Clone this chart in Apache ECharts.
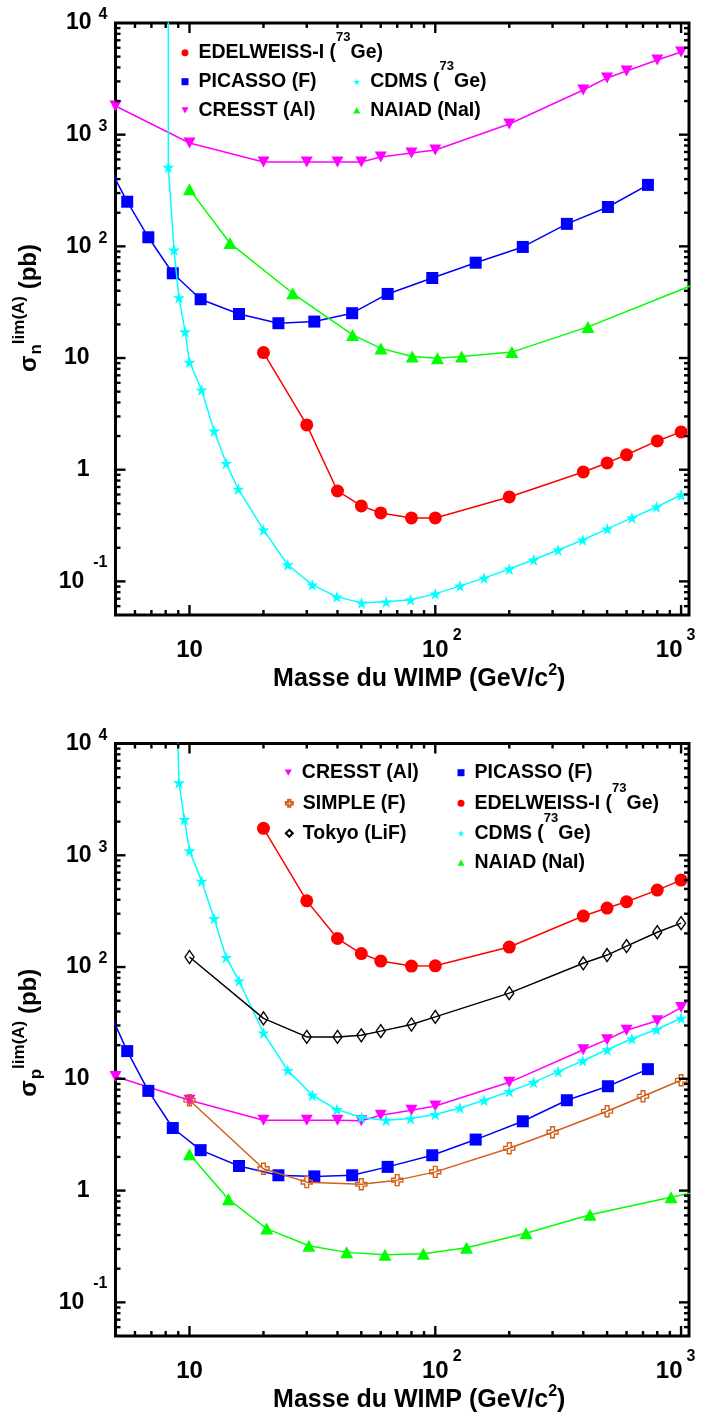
<!DOCTYPE html>
<html><head><meta charset="utf-8">
<script src="https://cdn.jsdelivr.net/npm/echarts@6/dist/echarts.min.js"></script>
<style>html,body{margin:0;padding:0;background:#fff}#c{width:709px;height:1416px}</style>
</head><body><div id="c"></div><script>
// ---------- DATA ----------
// Top panel (sigma_n)
const nCresstX = [5,10,20,30,40,50,60,80,100,200,400,500,600,800,1000];
const nCresstY = [1807,843,570,570,570,570,631,686,730,1247,2512,3221,3716,4663,5495];
const nPicassoX = [4.85,5.58,6.8,8.55,11.1,15.9,23,32.2,45.9,64,97.2,146,227,343,504,733];
const nPicassoY = [450,251,120.6,57.4,33.6,24.8,20.5,21.2,25.2,37.5,52.1,71.4,98.8,159,225,355];
const nCdmsX = [8.2,8.2,8.65,9.06,9.6,10,11.2,12.6,14.1,15.8,20,25.1,31.6,39.8,50.1,63.1,79.4,100,126,158,200,251,316,398,501,631,794,1000];
const nCdmsY = [100000,511,92.8,34.7,17.2,9.2,5.18,2.22,1.14,0.669,0.289,0.141,0.0931,0.0727,0.0642,0.0656,0.0684,0.0773,0.0912,0.107,0.129,0.156,0.191,0.235,0.295,0.37,0.464,0.594];
const nEdelX = [20,30,40,50,60,80,100,200,400,500,600,800,1000];
const nEdelY = [11.2,2.52,0.645,0.474,0.41,0.37,0.37,0.57,0.955,1.15,1.36,1.81,2.18];
const nNaiadX = [10,14.6,26.3,46.1,60.1,80.6,102,128,205,418,1200];
const nNaiadY = [324,107,38,16.1,12.2,10.3,9.96,10.3,11.3,19,48];
// Bottom panel (sigma_p)
const pCresstX = [5,10,20,30,40,50,60,80,100,200,400,500,600,800,1000];
const pCresstY = [10.5,6.43,4.26,4.26,4.26,4.22,4.72,5.23,5.72,9.3,18.2,22.4,27.2,33.1,43.4];
const pPicassoX = [4.85,5.58,6.8,8.55,11.1,15.9,23,32.2,45.9,64,97.2,146,227,343,504,733];
const pPicassoY = [35,17.7,7.8,3.63,2.30,1.66,1.37,1.34,1.37,1.63,2.07,2.86,4.17,6.43,8.58,12.2];
const pSimpleX = [10,20,30,50,70,100,200,300,500,700,1000];
const pSimpleY = [6.43,1.57,1.19,1.14,1.24,1.47,2.39,3.33,5.13,6.98,9.7];
const pTokyoX = [10,20,30,40,50,60,80,100,200,400,500,600,800,1000];
const pTokyoY = [123,34.7,23.7,23.7,24.5,26.7,30.6,35.8,58.4,108,128,154,205,247];
const pEdelX = [20,30,40,50,60,80,100,200,400,500,600,800,1000];
const pEdelY = [1741,391,180,132,113,102,102.5,151,286,337,384,488,600];
const pCdmsX = [8.9,9.06,9.53,10,11.2,12.6,14.1,15.9,20,25.1,31.6,39.8,50.1,63.1,79.4,100,126,158,200,251,316,398,501,631,794,1000];
const pCdmsY = [20000,4457,2094,1097,587,272,122,75.2,25.7,11.9,7.13,5.31,4.51,4.26,4.41,4.79,5.49,6.43,7.7,9.3,11.6,14.5,18.2,22.8,27.6,34.8];
const pNaiadX = [10,14.4,20.6,30.6,43.6,62.4,89.4,134,234,426,910,1200];
const pNaiadY = [2.11,0.836,0.457,0.321,0.28,0.266,0.272,0.308,0.415,0.607,0.87,0.99];

// Axis ticks
const xMajorTicks = [10,100,1000];
const xMinorTicks = [6,7,8,9,20,30,40,50,60,70,80,90,200,300,400,500,600,700,800,900];
const yMajorTicks = [0.1,1,10,100,1000];
const yMinorTicks = [0.06,0.07,0.08,0.09,0.2,0.3,0.4,0.5,0.6,0.7,0.8,0.9,2,3,4,5,6,7,8,9,20,30,40,50,60,70,80,90,200,300,400,500,600,700,800,900,2000,3000,4000,5000,6000,7000,8000,9000];

const NAMES = {
  edel:'EDELWEISS-I (73Ge)', pic:'PICASSO (F)', cres:'CRESST (Al)', cdms:'CDMS (73Ge)',
  naiad:'NAIAD (NaI)', simple:'SIMPLE (F)', tokyo:'Tokyo (LiF)'
};

// ---------- STYLE ----------
const FF = "'Liberation Sans', Arial, sans-serif";
const STAR = 'path://M50,0 L61.2,34.5 L97.6,34.5 L68.2,55.9 L79.4,90.5 L50,69.1 L20.6,90.5 L31.8,55.9 L2.4,34.5 L38.8,34.5 Z';
const DTRI = 'path://M0,0 L10,0 L5,9 Z';
const UTRI = 'path://M5,0 L10,9 L0,9 Z';
const PLUS = 'path://M3.3,0 H6.7 V3.3 H10 V6.7 H6.7 V10 H3.3 V6.7 H0 V3.3 H3.3 Z';
const STY = {
  edel:  {color:'#ff0000', symbol:'circle', size:13},
  pic:   {color:'#0000ff', symbol:'rect', size:12},
  cres:  {color:'#ff00ff', symbol:'triangle', size:[12,11], rotate:180},
  cdms:  {color:'#00ffff', symbol:STAR, size:12},
  naiad: {color:'#00ff00', symbol:'triangle', size:[13,12]},
  simple:{color:'#d2601a', symbol:PLUS, size:11, open:true},
  tokyo: {color:'#000000', symbol:'diamond', size:[9,13], open:true}
};

function mk(key, g, xs, ys, z) {
  const s = STY[key];
  return {
    type:'line', name:NAMES[key], xAxisIndex:g, yAxisIndex:g,
    data: xs.map((x,i)=>[x, ys[i]]),
    symbol:s.symbol, symbolSize:s.size, symbolRotate:s.rotate||0, symbolKeepAspect:false,
    showSymbol:true, showAllSymbol:true, clip:true, z:z||2,
    itemStyle: s.open ? {color:'rgba(255,255,255,0)', borderColor:s.color, borderWidth:1.4}
                      : {color:s.color, borderWidth:0},
    lineStyle:{color:s.color, width:1.5},
    emphasis:{disabled:true}
  };
}

function seg(x1,y1,x2,y2,w){ return {type:'line', shape:{x1,y1,x2,y2}, style:{stroke:'#000', lineWidth:w}}; }
function tickRender(params, api) {
  const cs = params.coordSys;
  const L = cs.x, R = cs.x + cs.width, T = cs.y, B = cs.y + cs.height;
  const kids = [];
  const addX = (v, len) => { const p = api.coord([v, 1])[0]; kids.push(seg(p,B,p,B-len,2.4), seg(p,T,p,T+len,2.4)); };
  const addY = (v, len) => { const p = api.coord([10, v])[1]; kids.push(seg(L,p,L+len,p,2.4), seg(R,p,R-len,p,2.4)); };
  xMajorTicks.forEach(v => addX(v, 10));
  xMinorTicks.forEach(v => addX(v, 5));
  yMajorTicks.forEach(v => addY(v, 10));
  yMinorTicks.forEach(v => addY(v, 5));
  return {type:'group', children:kids};
}

function isPow(v){ const e = Math.log10(v); return Math.abs(e - Math.round(e)) < 1e-6 ? Math.round(e) : null; }
function yLabel(v){
  const e = isPow(v); if (e === null) return '';
  if (e === 0) return '{b|1}{g|\u00a0}';
  if (e === 1) return '{b|10}{g|\u00a0}';
  if (e < 0) return '{bb|10}{n|' + e + '}';
  return '{b|10}{s|' + e + '}';
}
function xLabel(v){
  const e = isPow(v); if (e === null) return '';
  if (e === 1) return '{b|10}';
  if (e === 3) return '{b|10}{s|' + e + '}{q|\u00a0}';
  return '{p|\u00a0}{b|10}{s|' + e + '}';
}
function txt(size, h, extra){ return Object.assign({fontFamily:FF, fontSize:size, fontWeight:'bold', color:'#000', height:h, lineHeight:h, verticalAlign:'middle'}, extra||{}); }
function sup(size, h, raise, gapL, lower){
  return {fontFamily:FF, fontSize:size, fontWeight:'bold', color:'#000', lineHeight:h, verticalAlign:'middle',
          padding: lower ? [lower*2,0,0,gapL||0] : [0,0,raise*2,gapL||0]};
}
const yRich = {
  b: txt(23, 38),
  bb: txt(23, 62),
  s: sup(16, 38, 8, 7),
  n: sup(16, 62, 19, 9),
  g: {width:18, height:38, lineHeight:38}
};
const xRich = {
  b: txt(24, 52),
  s: sup(16, 52, 14, 4),
  p: {width:13, height:52, lineHeight:52},
  q: {width:11, height:52, lineHeight:52}
};
const nameXRich = {
  t: txt(25, 40),
  s: sup(16, 40, 8, 0)
};
const nameYRich = {
  t: txt(24, 48),
  sub: sup(17, 48, 0, 1, 7),
  sup: sup(17, 48, 10, 0)
};

function xAx(g){
  return {gridIndex:g, type:'log', logBase:10, min:5, max:1077,
    axisLine:{show:false}, axisTick:{show:false}, splitLine:{show:false}, minorTick:{show:false},
    axisLabel:{formatter:xLabel, rich:xRich, margin:9, showMinLabel:true, showMaxLabel:true, hideOverlap:false},
    name:'{t|Masse du WIMP (GeV/c}{s|2}{t|)}', nameLocation:'middle', nameGap:44, nameMoveOverlap:false,
    nameTextStyle:{rich:nameXRich, padding:[0,0,0,34]}};
}
function yAx(g, sym, shift){
  return {gridIndex:g, type:'log', logBase:10, min:0.05, max:10000,
    axisLine:{show:false}, axisTick:{show:false}, splitLine:{show:false}, minorTick:{show:false},
    axisLabel:{formatter:yLabel, rich:yRich, margin:8, showMinLabel:true, showMaxLabel:true, hideOverlap:false},
    name:'{t|σ}{sub|' + sym + '}{sup|lim(A)}{t| (pb)}', nameLocation:'middle', nameRotate:90, nameGap:62, nameMoveOverlap:false,
    nameTextStyle:{rich:nameYRich, padding:[0,0,0,shift]}};
}

// Legends
const legRich = {
  g:{width:5, height:50, lineHeight:50},
  b: txt(19.5, 50),
  s: sup(13, 50, 15, 0)
};
function legFmt(name){
  const m = name.match(/^(.*\()73(Ge\))$/);
  if (m) return '{g|\u00a0}{b|' + m[1] + '}{s|73}{b|' + m[2] + '}';
  return '{g|\u00a0}{b|' + name + '}';
}
const LEGICON = {edel:'circle', pic:'rect', cres:DTRI, cdms:STAR, naiad:UTRI, simple:PLUS, tokyo:'diamond'};
function leg(key, cx, cy){
  return {data:[{name:NAMES[key], icon:LEGICON[key]}], left:cx-3.5, top:cy-25, padding:0,
    itemWidth:7, itemHeight:7, selectedMode:false, formatter:legFmt,
    textStyle:{rich:legRich}, orient:'horizontal'};
}

const GRIDBASE = {left:115.5, width:573.5, show:true, borderColor:'#000', borderWidth:3,
  backgroundColor:'transparent', containLabel:false, outerBoundsMode:'none'};
const option = {
  animation:false,
  textStyle:{fontFamily:FF},
  grid:[
    Object.assign({top:23, height:592}, GRIDBASE),
    Object.assign({top:743.5, height:592.5}, GRIDBASE)
  ],
  xAxis:[xAx(0), xAx(1)],
  yAxis:[yAx(0,'n',22), yAx(1,'p',14)],
  legend:[
    leg('edel',185,52.7), leg('pic',185,81.7), leg('cres',185,110.3),
    leg('cdms',356.7,81.7), leg('naiad',356.7,110.3),
    leg('cres',288.3,772.7), leg('simple',288.3,803.3), leg('tokyo',288.3,833.3),
    leg('pic',461,772.7), leg('edel',461,803.3), leg('cdms',461,833.3), leg('naiad',461,862.7)
  ],
  series:[
    mk('cres',0,nCresstX,nCresstY,2),
    mk('pic',0,nPicassoX,nPicassoY,3),
    mk('naiad',0,nNaiadX,nNaiadY,3),
    mk('edel',0,nEdelX,nEdelY,4),
    mk('cdms',0,nCdmsX,nCdmsY,5),
    mk('cres',1,pCresstX,pCresstY,2),
    mk('cdms',1,pCdmsX,pCdmsY,3),
    mk('pic',1,pPicassoX,pPicassoY,4),
    mk('simple',1,pSimpleX,pSimpleY,5),
    mk('tokyo',1,pTokyoX,pTokyoY,5),
    mk('edel',1,pEdelX,pEdelY,5),
    mk('naiad',1,pNaiadX,pNaiadY,5),
    {type:'custom', xAxisIndex:0, yAxisIndex:0, data:[[10,1]], renderItem:tickRender, clip:false, silent:true, z:10},
    {type:'custom', xAxisIndex:1, yAxisIndex:1, data:[[10,1]], renderItem:tickRender, clip:false, silent:true, z:10}
  ]
};
const chart = echarts.init(document.getElementById('c'), null, {renderer:'canvas'});
chart.setOption(option);
</script></body></html>
